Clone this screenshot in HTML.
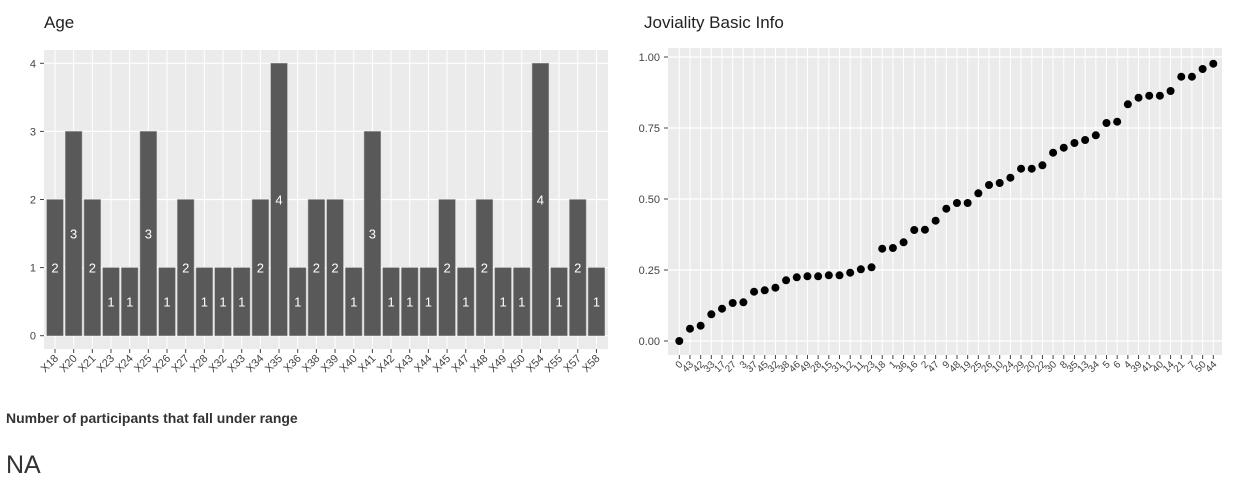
<!DOCTYPE html>
<html><head><meta charset="utf-8"><style>
body{margin:0;background:#fff;width:1239px;height:483px;overflow:hidden;font-family:"Liberation Sans",sans-serif}
svg{position:absolute;left:0;top:0}
.t{position:absolute;color:#333}
</style></head><body>
<div class="t" style="left:44px;top:13px;font-size:17px;color:#222">Age</div>
<div class="t" style="left:644px;top:13px;font-size:17px;color:#222">Joviality Basic Info</div>
<div class="t" style="left:6px;top:410px;font-size:14px;font-weight:bold">Number of participants that fall under range</div>
<div class="t" style="left:6px;top:451px;font-size:25px">NA</div>
<svg width="1239" height="400" id="s"></svg>
<script>
var s=document.getElementById('s'),h='';
var L=44,R=608,T=50,B=349,z=335.7,u=68.1;
h+='<rect x="'+L+'" y="'+T+'" width="'+(R-L)+'" height="'+(B-T)+'" fill="#ebebeb"/>';
var cats=['X18','X20','X21','X23','X24','X25','X26','X27','X28','X32','X33','X34','X35','X36','X38','X39','X40','X41','X42','X43','X44','X45','X47','X48','X49','X50','X54','X55','X57','X58'];
var v=[2,3,2,1,1,3,1,2,1,1,1,2,4,1,2,2,1,3,1,1,1,2,1,2,1,1,4,1,2,1];
for(var k=0;k<=4;k++){var y=z-k*u;h+='<line x1="'+L+'" x2="'+R+'" y1="'+y+'" y2="'+y+'" stroke="#fff" stroke-width="1.2"/><text x="'+(L-8)+'" y="'+(y+4)+'" font-size="11" fill="#444" text-anchor="end">'+k+'</text><line x1="'+(L-4)+'" x2="'+L+'" y1="'+y+'" y2="'+y+'" stroke="#444"/>';}
var st=18.67;
for(var i=0;i<30;i++){var cx=55+i*st;h+='<line x1="'+cx+'" x2="'+cx+'" y1="'+T+'" y2="'+B+'" stroke="#fff" stroke-width="1"/>';}
for(var i=0;i<30;i++){var cx=55+i*st,ty=z-v[i]*u;
h+='<rect x="'+(cx-8.3)+'" y="'+ty+'" width="16.6" height="'+(z-ty)+'" fill="#595959" stroke="#9a9a9a" stroke-width="0.5"/>';
h+='<text x="'+cx+'" y="'+(z-v[i]*u/2+5)+'" font-size="13" fill="#fff" text-anchor="middle">'+v[i]+'</text>';
h+='<line x1="'+cx+'" x2="'+cx+'" y1="'+B+'" y2="'+(B+4)+'" stroke="#444"/>';
h+='<text transform="translate('+(cx+4)+','+(B+10)+') rotate(-45)" font-size="11" fill="#444" text-anchor="end">'+cats[i]+'</text>';}
var L2=668,R2=1222,T2=48,B2=355;
h+='<rect x="'+L2+'" y="'+T2+'" width="'+(R2-L2)+'" height="'+(B2-T2)+'" fill="#ebebeb"/>';
var ys=[341,328.7,325.7,314.3,308.7,303,302.3,291.7,290.3,287.7,280.3,277.3,276.3,276.3,275.3,275.3,272.7,269.3,267.3,248.7,248,242.3,230,229.7,220.7,208.7,203,203,193.3,185,183,177.7,168.7,168.7,165.3,152.7,147.7,143,140,135.3,123,121.7,104.3,97.7,95.7,95.7,91,76.7,76.7,69,63.7];
var lb=[0,43,42,33,17,27,3,37,45,32,38,46,49,28,15,31,12,11,23,18,1,36,16,2,47,9,48,19,25,26,10,24,29,20,22,30,8,35,13,34,5,6,4,39,41,40,14,21,7,50,44];
var yt=['0.00','0.25','0.50','0.75','1.00'];
for(var k=0;k<5;k++){var y=341-k*71;h+='<line x1="'+L2+'" x2="'+R2+'" y1="'+y+'" y2="'+y+'" stroke="#fff" stroke-width="1.2"/><text x="'+(L2-8)+'" y="'+(y+4)+'" font-size="11" fill="#444" text-anchor="end">'+yt[k]+'</text><line x1="'+(L2-4)+'" x2="'+L2+'" y1="'+y+'" y2="'+y+'" stroke="#444"/>';}
for(var i=0;i<51;i++){var cx=679.3+i*10.68;
h+='<line x1="'+cx+'" x2="'+cx+'" y1="'+T2+'" y2="'+B2+'" stroke="#fff" stroke-width="1"/>';
h+='<line x1="'+cx+'" x2="'+cx+'" y1="'+B2+'" y2="'+(B2+4)+'" stroke="#444"/>';
h+='<text transform="translate('+(cx+4)+','+(B2+10)+') rotate(-45)" font-size="10" fill="#444" text-anchor="end">'+lb[i]+'</text>';}
for(var i=0;i<51;i++){var cx=679.3+i*10.68;h+='<circle cx="'+cx+'" cy="'+ys[i]+'" r="4" fill="#000"/>';}
s.innerHTML=h;
</script>
</body></html>
